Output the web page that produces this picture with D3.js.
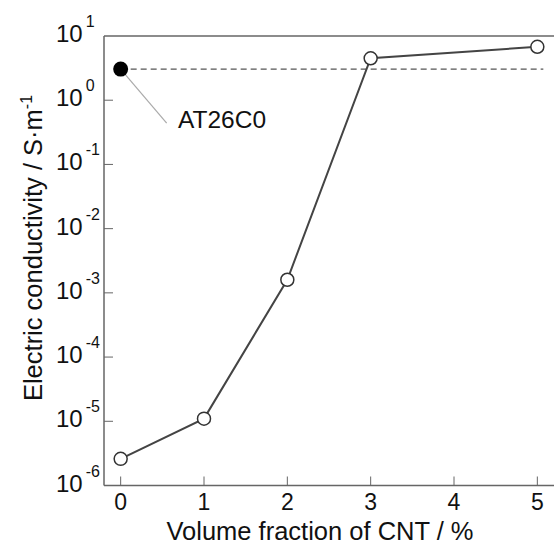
<!DOCTYPE html>
<html>
<head>
<meta charset="utf-8">
<script src="https://cdn.jsdelivr.net/npm/d3@7"></script>
<style>
  body { margin: 0; background: #fff; }
  svg text { font-family: "Liberation Sans", Arial, sans-serif; fill: #111; }
</style>
</head>
<body>
<svg id="chart" width="554" height="548"></svg>
<script>
// data
var cntFraction = [0, 1, 2, 3, 5];
var conductivity = [2.6e-6, 1.1e-5, 1.6e-3, 4.5, 6.8];
var refName = "AT26C0";
var refValue = 3.05;
var xTicks = [0, 1, 2, 3, 4, 5];
var yExponents = [-6, -5, -4, -3, -2, -1, 0, 1];

var svg = d3.select("#chart");
// note: "top" is taken by window.top, so use plot* names
var plotLeft = 104, plotRight = 554, plotTop = 36, plotBottom = 485.5;

var x = d3.scaleLinear().domain([-0.2, 5.2]).range([plotLeft, plotRight]);
var y = d3.scaleLog().domain([1e-6, 10]).range([plotBottom, plotTop]);

var axisColor = "#666";

// frame: left, bottom, top
svg.append("line").attr("x1", plotLeft).attr("y1", plotTop).attr("x2", plotLeft).attr("y2", plotBottom)
    .attr("stroke", axisColor).attr("stroke-width", 1.5);
svg.append("line").attr("x1", plotLeft).attr("y1", plotBottom).attr("x2", plotRight).attr("y2", plotBottom)
    .attr("stroke", axisColor).attr("stroke-width", 1.5);
svg.append("line").attr("x1", plotLeft).attr("y1", plotTop).attr("x2", plotRight).attr("y2", plotTop)
    .attr("stroke", axisColor).attr("stroke-width", 1.5);

// x ticks (inward)
xTicks.forEach(function(t){
    svg.append("line")
        .attr("x1", x(t)).attr("x2", x(t))
        .attr("y1", plotBottom).attr("y2", plotBottom - 9)
        .attr("stroke", axisColor).attr("stroke-width", 1);
    svg.append("text")
        .attr("x", x(t)).attr("y", 510)
        .attr("text-anchor", "middle")
        .attr("font-size", "23px")
        .text(t);
});

// y ticks with 10^n labels
yExponents.forEach(function(e){
    var v = Math.pow(10, e);
    if (e > -6 && e < 1) {
        svg.append("line")
            .attr("x1", plotLeft).attr("x2", plotLeft + 9)
            .attr("y1", y(v)).attr("y2", y(v))
            .attr("stroke", axisColor).attr("stroke-width", 1);
    }
    var t = svg.append("text")
        .attr("x", 56).attr("y", y(v) + 6)
        .attr("font-size", "24px");
    t.append("tspan").text("10");
    t.append("tspan").attr("dx", 3).attr("dy", -15).attr("font-size", "16px").text(e);
});

// axis titles
svg.append("text")
    .attr("x", 320).attr("y", 540)
    .attr("text-anchor", "middle")
    .attr("font-size", "25.5px")
    .text("Volume fraction of CNT / %");

var yt = svg.append("text")
    .attr("transform", "translate(42,248) rotate(-90)")
    .attr("text-anchor", "middle")
    .attr("font-size", "25.5px");
yt.append("tspan").text("Electric conductivity / S·m");
yt.append("tspan").attr("dy", -10).attr("font-size", "16px").text("-1");

// reference dashed line
svg.append("line")
    .attr("x1", x(0)).attr("x2", x(5) + 6)
    .attr("y1", y(refValue)).attr("y2", y(refValue))
    .attr("stroke", "#555").attr("stroke-width", 1.3)
    .attr("stroke-dasharray", "6,4");

// leader line + label
svg.append("line")
    .attr("x1", x(0)).attr("y1", y(refValue))
    .attr("x2", x(0) + 46).attr("y2", y(refValue) + 54)
    .attr("stroke", "#aaa").attr("stroke-width", 1.2);
svg.append("text")
    .attr("x", 178).attr("y", 128)
    .attr("font-size", "24.5px")
    .text(refName);

svg.append("circle")
    .attr("cx", x(0)).attr("cy", y(refValue)).attr("r", 7.5)
    .attr("fill", "#000");

// series
var pts = cntFraction.map(function(d, i){ return [d, conductivity[i]]; });
svg.append("path")
    .datum(pts)
    .attr("d", d3.line().x(function(d){ return x(d[0]); }).y(function(d){ return y(d[1]); }))
    .attr("fill", "none").attr("stroke", "#444").attr("stroke-width", 2);

svg.selectAll("circle.pt").data(pts).enter().append("circle")
    .attr("class", "pt")
    .attr("cx", function(d){ return x(d[0]); })
    .attr("cy", function(d){ return y(d[1]); })
    .attr("r", 6.5)
    .attr("fill", "#fff").attr("stroke", "#333").attr("stroke-width", 1.5);
</script>
</body>
</html>
